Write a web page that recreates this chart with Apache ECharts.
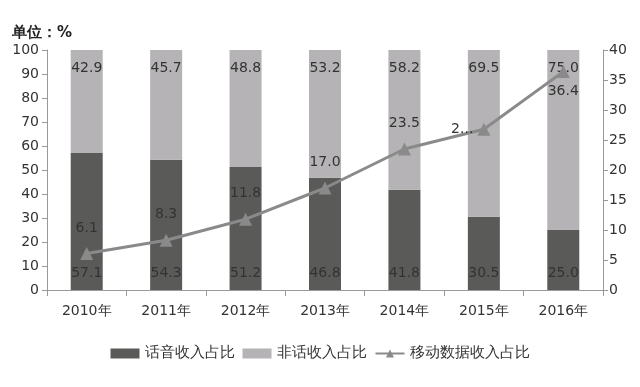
<!DOCTYPE html>
<html><head><meta charset="utf-8">
<script src="https://cdn.jsdelivr.net/npm/echarts@6/dist/echarts.min.js"></script>
<style>html,body{margin:0;padding:0;background:#fff}#c{width:640px;height:387px}</style>
</head><body><div id="c"></div>
<script>
const categories = ['2010年','2011年','2012年','2013年','2014年','2015年','2016年'];
const voiceShare = [57.1, 54.3, 51.2, 46.8, 41.8, 30.5, 25.0];
const nonVoiceShare = [42.9, 45.7, 48.8, 53.2, 58.2, 69.5, 75.0];
const mobileDataShare = [6.1, 8.3, 11.8, 17.0, 23.5, 26.8, 36.4];
const leftTicks = {min: 0, max: 100, interval: 10};
const rightTicks = {min: 0, max: 40, interval: 5};

const font = 'DejaVu Sans';
const txt = '#333';
const chart = echarts.init(document.getElementById('c'), null, {renderer: 'canvas'});
chart.setOption({
  animation: false,
  textStyle: {fontFamily: font},
  title: {text: '单位：%', left: 7, top: 21, textStyle: {fontSize: 15, fontWeight: 'bold', color: '#222', fontFamily: font}},
  grid: {left: 47, right: 37, top: 50, bottom: 97},
  legend: {
    bottom: 21, left: 'center', itemWidth: 29, itemHeight: 10, itemGap: 8,
    textStyle: {fontSize: 15, color: txt, fontFamily: font},
    data: [
      {name: '话音收入占比', icon: 'rect'},
      {name: '非话收入占比', icon: 'rect'},
      {name: '移动数据收入占比'}
    ]
  },
  xAxis: {
    type: 'category', data: categories, boundaryGap: true,
    axisLine: {lineStyle: {color: '#999', width: 1}},
    axisTick: {show: true, alignWithLabel: false, length: 6, lineStyle: {color: '#999'}},
    axisLabel: {fontSize: 14, color: txt, margin: 14, fontFamily: font}
  },
  yAxis: [
    {type: 'value', min: leftTicks.min, max: leftTicks.max, interval: leftTicks.interval,
     axisLine: {show: true, lineStyle: {color: '#999'}},
     axisTick: {show: true, length: 5, lineStyle: {color: '#999'}},
     splitLine: {show: false},
     axisLabel: {fontSize: 14, color: txt, margin: 8, fontFamily: font}},
    {type: 'value', min: rightTicks.min, max: rightTicks.max, interval: rightTicks.interval,
     position: 'right',
     axisLine: {show: true, lineStyle: {color: '#999'}},
     axisTick: {show: true, length: 5, lineStyle: {color: '#999'}},
     splitLine: {show: false},
     axisLabel: {fontSize: 14, color: txt, margin: 6, fontFamily: font}}
  ],
  series: [
    {name: '话音收入占比', type: 'bar', stack: 'share', barWidth: 32,
     itemStyle: {color: '#5a5a58'},
     label: {show: true, position: 'insideBottom', distance: 10, fontSize: 14, color: '#333', fontFamily: font,
             formatter: p => p.value.toFixed(1)},
     data: voiceShare},
    {name: '非话收入占比', type: 'bar', stack: 'share', barWidth: 32,
     itemStyle: {color: '#b5b3b5'},
     label: {show: true, position: 'insideTop', distance: 11, fontSize: 14, color: '#333', fontFamily: font,
             formatter: p => p.value.toFixed(1)},
     data: nonVoiceShare},
    {name: '移动数据收入占比', type: 'line', yAxisIndex: 1,
     symbol: 'triangle', symbolSize: 13,
     lineStyle: {color: '#8a8a8a', width: 3},
     itemStyle: {color: '#8a8a8a'},
     label: {show: true, position: 'top', distance: 12, fontSize: 14, color: '#333', fontFamily: font,
             formatter: p => p.value.toFixed(1)},
     data: mobileDataShare.map((v, i) => {
       if (i === 5) return {value: v, label: {position: 'left', distance: 4, formatter: '2...'}};
       if (i === 6) return {value: v, label: {position: 'bottom', distance: 6}};
       return v;
     }),
     z: 5}
  ]
});
</script></body></html>
